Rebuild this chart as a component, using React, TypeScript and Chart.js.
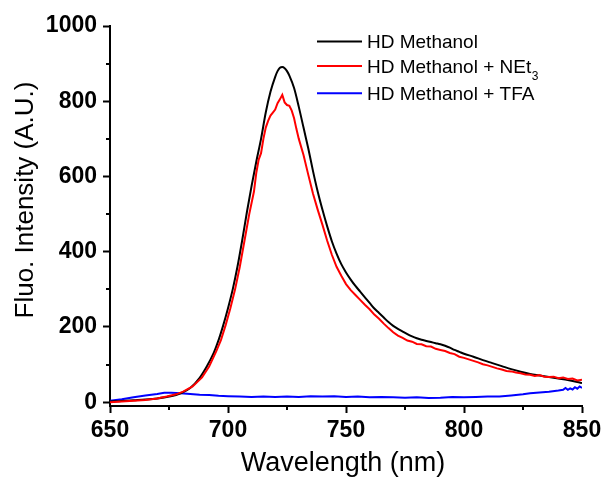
import React, { useEffect, useRef } from "react";
import { Chart, registerables } from "chart.js";

Chart.register(...registerables);

// ---- Data (wavelength nm, intensity A.U.) ----
const blackSeries: number[][] = [
  [650, 2], [655, 3], [660, 5], [665, 7], [670, 10], [675, 15], [680, 24], [684, 38], [688, 65],
  [691, 95], [694, 132], [696, 165], [698, 205], [700, 250], [702, 300], [704, 360], [706, 430],
  [708, 505], [710, 575], [712, 640], [714, 700], [716, 770], [718, 825], [720, 865], [721, 880],
  [722, 889], [723, 891], [724, 888], [725, 880], [726, 868], [728, 835], [730, 785], [732, 730],
  [734, 675], [736, 615], [738, 560], [740, 512], [742, 468], [744, 428], [746, 395], [748, 367],
  [750, 345], [752, 326], [754, 309], [756, 294], [758, 279], [760, 264], [762, 249], [764, 237],
  [766, 225], [768, 213], [770, 203], [772, 195], [774, 188], [776, 181], [778, 175], [780, 170],
  [782, 166], [784, 163], [786, 160], [788, 157], [790, 154], [792, 150], [794, 145], [796, 139],
  [798, 134], [800, 129], [804, 121], [808, 112], [812, 104], [816, 96], [820, 88], [824, 81],
  [828, 75], [832, 71], [836, 67], [840, 63], [844, 59], [848, 54], [850, 51],
];

const redSeries: number[][] = [
  [650, 0], [655, 2], [660, 4], [665, 6], [670, 10], [674, 15], [678, 21], [681, 28], [685, 42],
  [689, 66], [692, 95], [695, 135], [697, 165], [699, 205], [701, 250], [703, 300], [705, 360],
  [707, 430], [709, 500], [711, 560], [712, 610], [713, 645], [714, 662], [715, 700], [716, 730],
  [717, 748], [718, 762], [719, 770], [720, 778], [721, 795], [722, 805], [723, 817], [724, 797],
  [725, 790], [726, 788], [727, 775], [728, 755], [729, 726], [730, 700], [732, 657], [734, 605],
  [736, 555], [738, 512], [740, 472], [742, 430], [744, 392], [746, 360], [748, 336], [750, 314],
  [752, 298], [754, 285], [756, 272], [758, 259], [760, 247], [762, 233], [764, 222], [766, 209],
  [768, 197], [770, 186], [772, 177], [774, 171], [776, 164], [778, 161], [780, 155], [782, 154],
  [784, 149], [786, 148], [788, 142], [790, 139], [792, 136], [794, 131], [796, 128], [798, 121],
  [800, 118], [802, 114], [804, 110], [806, 106], [808, 101], [810, 98], [812, 94], [814, 90],
  [816, 87], [818, 83], [820, 82], [822, 79], [824, 77], [826, 74], [828, 73], [830, 70],
  [832, 72], [834, 68], [836, 67], [838, 68], [840, 64], [842, 66], [844, 62], [846, 63],
  [848, 58], [850, 60],
];

const blueSeries: number[][] = [
  [650, 4], [655, 8], [660, 13], [665, 18], [670, 22], [673, 25], [676, 25], [680, 24], [684, 22],
  [688, 20], [692, 19], [696, 17], [700, 16], [705, 15], [710, 14], [715, 15], [720, 14], [725, 15],
  [730, 14], [735, 16], [740, 15], [745, 16], [750, 14], [755, 15], [760, 13], [765, 14], [770, 13],
  [775, 12], [780, 13], [785, 11], [790, 12], [795, 14], [800, 13], [805, 14], [810, 15], [815, 15],
  [820, 18], [825, 21], [828, 24], [832, 26], [836, 28], [840, 31], [842, 33], [843, 38], [844, 33],
  [845, 37], [846, 34], [847, 40], [848, 36], [849, 42], [850, 38],
];

const seriesLabels = ["HD Methanol", "HD Methanol + NEt", "HD Methanol + TFA"];
const seriesSubscripts = ["", "3", ""];
const seriesColors = ["#000000", "#ff0000", "#0000ff"];

const xMajorTicks = [650, 700, 750, 800, 850];
const xMinorTicks = [675, 725, 775, 825];
const yMajorTicks = [0, 200, 400, 600, 800, 1000];
const yMinorTicks = [100, 300, 500, 700, 900];

const xTitle = "Wavelength (nm)";
const yTitle = "Fluo. Intensity (A.U.)";

const FONT = '"Liberation Sans", Arial, sans-serif';

const toPoints = (s: number[][]) => s.map(([x, y]) => ({ x, y }));

const decorPlugin = {
  id: "decor",
  afterDraw(chart: any) {
    const ctx = chart.ctx as CanvasRenderingContext2D;
    const xs = chart.scales.x;
    const ys = chart.scales.y;
    const area = chart.chartArea;
    ctx.save();
    // minor ticks
    ctx.strokeStyle = "#000";
    ctx.lineWidth = 2;
    ctx.beginPath();
    xMinorTicks.forEach((v) => {
      const px = Math.round(xs.getPixelForValue(v));
      ctx.moveTo(px, area.bottom);
      ctx.lineTo(px, area.bottom + 4);
    });
    yMinorTicks.forEach((v) => {
      const py = Math.round(ys.getPixelForValue(v));
      ctx.moveTo(area.left, py);
      ctx.lineTo(area.left - 4, py);
    });
    ctx.stroke();

    // axis titles
    ctx.fillStyle = "#000";
    ctx.font = `27px ${FONT}`;
    ctx.textAlign = "center";
    ctx.textBaseline = "alphabetic";
    ctx.fillText(xTitle, (area.left + area.right) / 2 - 3, 471);

    ctx.save();
    ctx.translate(33, 200);
    ctx.rotate(-Math.PI / 2);
    ctx.font = `26px ${FONT}`;
    ctx.fillText(yTitle, 0, 0);
    ctx.restore();

    // legend
    const baselines = [48.3, 72.7, 100];
    seriesLabels.forEach((label, i) => {
      const b = baselines[i];
      ctx.strokeStyle = seriesColors[i];
      ctx.lineWidth = 2;
      ctx.beginPath();
      ctx.moveTo(317, b - 6.7);
      ctx.lineTo(362, b - 6.7);
      ctx.stroke();
      ctx.fillStyle = "#000";
      ctx.textAlign = "left";
      ctx.font = `19px ${FONT}`;
      ctx.fillText(label, 367, b);
      if (seriesSubscripts[i]) {
        const w = ctx.measureText(label).width;
        ctx.font = `12px ${FONT}`;
        ctx.fillText(seriesSubscripts[i], 367 + w + 0.5, b + 7);
      }
    });
    ctx.restore();
  },
};

export default function App() {
  const canvasRef = useRef<HTMLCanvasElement | null>(null);

  useEffect(() => {
    const canvas = canvasRef.current;
    if (!canvas) return;
    const tickFont = { family: FONT, size: 23, weight: "bold" as const };
    const chart = new Chart(canvas, {
      type: "line",
      data: {
        datasets: [
          {
            label: seriesLabels[1],
            data: toPoints(redSeries),
            borderColor: seriesColors[1],
            borderWidth: 2,
            pointRadius: 0,
            tension: 0,
            order: 0,
          },
          {
            label: seriesLabels[0],
            data: toPoints(blackSeries),
            borderColor: seriesColors[0],
            borderWidth: 2,
            pointRadius: 0,
            cubicInterpolationMode: "monotone",
            order: 1,
          },
          {
            label: seriesLabels[2],
            data: toPoints(blueSeries),
            borderColor: seriesColors[2],
            borderWidth: 2,
            pointRadius: 0,
            tension: 0,
            order: 2,
          },
        ],
      },
      options: {
        animation: false,
        responsive: false,
        maintainAspectRatio: false,
        devicePixelRatio: 1,
        layout: { padding: { top: 26, right: 21, left: 0, bottom: 0 } },
        plugins: { legend: { display: false }, tooltip: { enabled: false }, title: { display: false } },
        scales: {
          x: {
            type: "linear",
            min: 650,
            max: 850,
            afterBuildTicks: (s: any) => {
              s.ticks = xMajorTicks.map((v) => ({ value: v }));
            },
            afterFit: (s: any) => {
              s.height = 75;
              s.paddingLeft = 0;
              s.paddingRight = 0;
            },
            ticks: {
              font: tickFont,
              color: "#000",
              padding: 4,
              maxRotation: 0,
              autoSkip: false,
              callback: (v: any) => String(v),
            },
            grid: {
              display: true,
              drawOnChartArea: false,
              drawTicks: true,
              tickLength: 7,
              tickWidth: 2,
              tickColor: "#000",
            },
            border: { display: true, color: "#000", width: 2 },
          },
          y: {
            type: "linear",
            min: -10,
            max: 1000,
            afterBuildTicks: (s: any) => {
              s.ticks = yMajorTicks.map((v) => ({ value: v }));
            },
            afterFit: (s: any) => {
              s.width = 110;
              s.paddingTop = 0;
              s.paddingBottom = 0;
            },
            ticks: {
              font: tickFont,
              color: "#000",
              padding: 6,
              autoSkip: false,
              callback: (v: any) => String(v),
            },
            grid: {
              display: true,
              drawOnChartArea: false,
              drawTicks: true,
              tickLength: 7,
              tickWidth: 2,
              tickColor: "#000",
            },
            border: { display: true, color: "#000", width: 2 },
          },
        },
      },
      plugins: [decorPlugin],
    });
    return () => chart.destroy();
  }, []);

  return (
    <div style={{ position: "absolute", left: 0, top: 0, width: 603, height: 481, background: "#fff" }}>
      <canvas ref={canvasRef} width={603} height={481} style={{ display: "block" }} />
    </div>
  );
}
